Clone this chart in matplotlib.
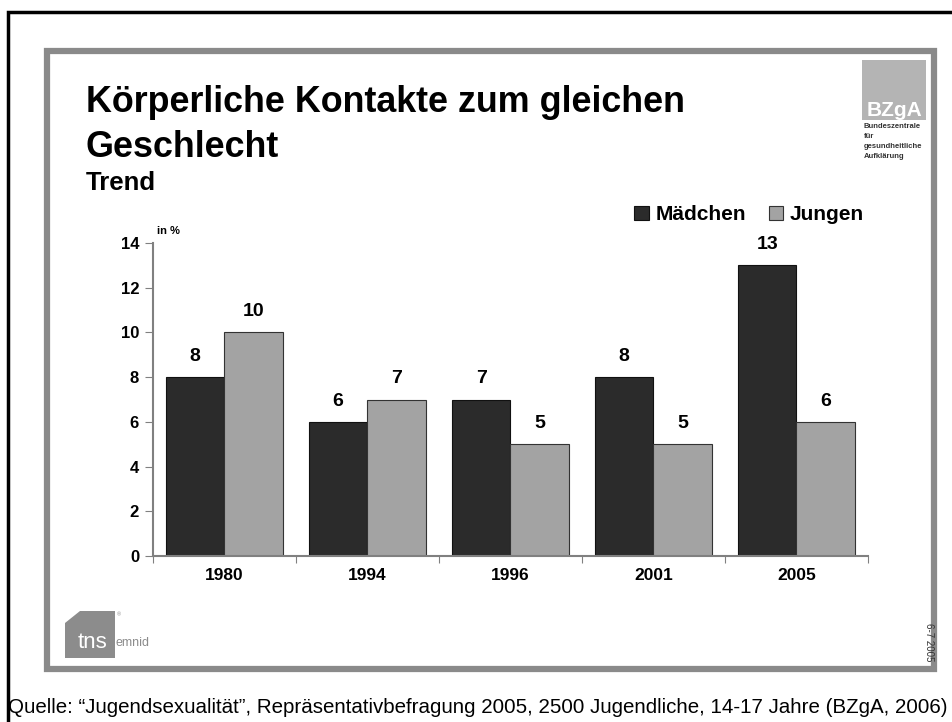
import matplotlib
matplotlib.use("Agg")
import matplotlib.pyplot as plt
from matplotlib.patches import Rectangle, Polygon
import numpy as np

plt.rcParams['font.family'] = ['Liberation Sans', 'DejaVu Sans']

years = ["1980", "1994", "1996", "2001", "2005"]
maedchen = [8, 6, 7, 8, 13]
jungen = [10, 7, 5, 5, 6]
yticks = [0, 2, 4, 6, 8, 10, 12, 14]

W, H = 953, 722
fig = plt.figure(figsize=(W / 100, H / 100), dpi=100)

def fx(px):
    return px / W

def fy(py):
    return 1 - py / H

# outer black border and gray slide frame
fig.patches.append(Rectangle((fx(8), fy(730)), fx(960 - 8), fy(12) - fy(730),
                             transform=fig.transFigure, fill=False,
                             edgecolor='black', linewidth=2.5))
fig.patches.append(Rectangle((fx(47), fy(669)), fx(934 - 47), fy(51) - fy(669),
                             transform=fig.transFigure, fill=False,
                             edgecolor='#8a8a8a', linewidth=4.5))

# BZgA logo
fig.patches.append(Rectangle((fx(862), fy(120)), fx(926 - 862), fy(60) - fy(120),
                             transform=fig.transFigure, facecolor='#b4b4b4',
                             edgecolor='none'))
fig.text(fx(895), fy(116), "BZgA", color='white', fontsize=15, fontweight='bold',
         ha='center', va='baseline')
for i, line in enumerate(["Bundeszentrale", "für", "gesundheitliche", "Aufklärung"]):
    fig.text(fx(864), fy(128 + 10 * i), line, fontsize=5.5, fontweight='bold',
             va='baseline', ha='left', color='#333333')

# tns emnid logo
fig.patches.append(Polygon([(fx(65), fy(623)), (fx(80), fy(611)), (fx(115), fy(611)),
                            (fx(115), fy(658)), (fx(65), fy(658))],
                           closed=True, transform=fig.transFigure,
                           facecolor='#8c8c8c', edgecolor='none'))
fig.text(fx(78), fy(648), "tns", color='white', fontsize=16,
         va='baseline', ha='left')
fig.text(fx(116), fy(646), "emnid", color='#8c8c8c', fontsize=9,
         va='baseline', ha='left')
fig.text(fx(117), fy(616), "®", color='#8c8c8c', fontsize=4,
         va='baseline', ha='left')

# date mark
fig.text(fx(929), fy(642), "6-7 2005", rotation=-90, fontsize=7,
         ha='center', va='center', color='#333333')

# titles
fig.text(fx(86), fy(112), "Körperliche Kontakte zum gleichen", fontsize=25.8,
         fontweight='bold', va='baseline', ha='left')
fig.text(fx(86), fy(157), "Geschlecht", fontsize=25.8,
         fontweight='bold', va='baseline', ha='left')
fig.text(fx(86), fy(190), "Trend", fontsize=18.5,
         fontweight='bold', va='baseline', ha='left')

# source line
fig.text(fx(8), fy(713), "Quelle: \u201cJugendsexualität\u201d, Repräsentativbefragung 2005, "
         "2500 Jugendliche, 14-17 Jahre (BZgA, 2006)", fontsize=14.8,
         va='baseline', ha='left')

# chart axes
ax = fig.add_axes([fx(153), fy(556), fx(868 - 153), fy(243) - fy(556)])
x = np.arange(len(years))
bw = 0.41
c_dark = '#2b2b2b'
c_light = '#a3a3a3'
b1 = ax.bar(x - bw / 2, maedchen, bw, color=c_dark, edgecolor='#111111',
            linewidth=0.8, label='Mädchen')
b2 = ax.bar(x + bw / 2, jungen, bw, color=c_light, edgecolor='#333333',
            linewidth=0.8, label='Jungen')
for rects, vals in ((b1, maedchen), (b2, jungen)):
    for r, v in zip(rects, vals):
        ax.text(r.get_x() + r.get_width() / 2, v + 0.55, str(v), ha='center',
                va='bottom', fontsize=14, fontweight='bold')

ax.set_xlim(-0.5, len(years) - 0.5)
ax.set_ylim(0, 14)
ax.set_yticks(yticks)
ax.set_yticklabels([str(t) for t in yticks], fontsize=12, fontweight='bold')
ax.set_xticks(np.arange(-0.5, len(years), 1.0))
ax.set_xticklabels([])
ax.set_xticks(x, minor=True)
ax.set_xticklabels(years, minor=True, fontsize=12.5, fontweight='bold')
ax.tick_params(axis='x', which='minor', length=0, pad=9)
ax.tick_params(axis='x', which='major', length=5, color='#808080', direction='out')
ax.tick_params(axis='y', length=6, color='#808080', direction='out', pad=4)
for s in ('top', 'right'):
    ax.spines[s].set_visible(False)
ax.spines['left'].set_color('#808080')
ax.spines['bottom'].set_color('#808080')
ax.spines['left'].set_linewidth(1.5)
ax.spines['bottom'].set_linewidth(1.5)

fig.text(fx(157), fy(234), "in %", fontsize=8, fontweight='bold', va='baseline')

leg = fig.legend(handles=[b1, b2], labels=['Mädchen', 'Jungen'], loc='center',
                 bbox_to_anchor=(fx(749), fy(215)), ncol=2, frameon=False,
                 prop={'size': 15, 'weight': 'bold'}, handlelength=0.7,
                 handleheight=0.7, handletextpad=0.3, columnspacing=1.1)

fig.savefig("out.png", dpi=100)
